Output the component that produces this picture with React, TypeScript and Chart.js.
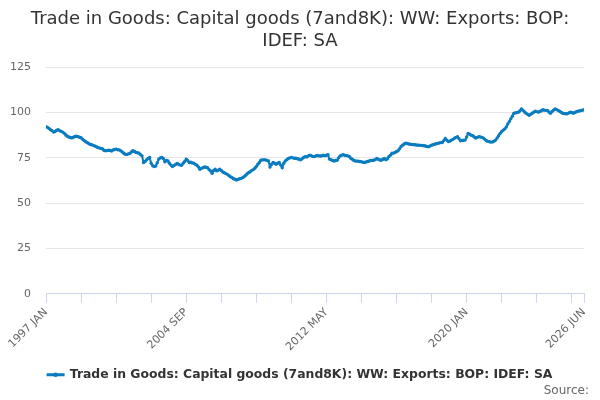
import React, { useEffect, useRef } from 'react';
import { Chart, registerables } from 'chart.js';

Chart.register(...registerables);

const titleLines = ['Trade in Goods: Capital goods (7and8K): WW: Exports: BOP:', 'IDEF: SA'];
const seriesName = 'Trade in Goods: Capital goods (7and8K): WW: Exports: BOP: IDEF: SA';
const sourceText = 'Source:';

const monthNames = ['JAN', 'FEB', 'MAR', 'APR', 'MAY', 'JUN', 'JUL', 'AUG', 'SEP', 'OCT', 'NOV', 'DEC'];
const firstYear = 1997;

// monthly index values, 1997 JAN .. 2026 JUN (one row per year)
const exportsIndex = [
  92.2, 91.8, 91.2, 90.5, 90.0, 89.2, 89.5, 90.2, 90.5, 90.0, 89.6, 89.2,
  88.5, 87.6, 86.9, 86.5, 86.2, 86.0, 86.4, 86.8, 86.9, 86.7, 86.4, 86.1,
  85.3, 84.6, 83.9, 83.5, 82.9, 82.4, 82.2, 81.9, 81.5, 81.1, 80.7, 80.5,
  80.2, 80.0, 79.2, 78.9, 79.0, 79.2, 79.1, 78.8, 79.3, 79.6, 79.8, 79.5,
  79.4, 78.9, 78.3, 77.6, 77.0, 76.9, 77.2, 77.4, 78.2, 78.9, 78.5, 78.0,
  77.8, 77.6, 76.8, 76.1, 72.4, 73.0, 73.9, 74.6, 75.2, 72.0, 70.6, 70.2,
  70.5, 72.3, 74.3, 75.0, 75.2, 74.6, 72.8, 73.5, 73.3, 72.0, 71.0, 70.2,
  70.8, 71.3, 71.9, 71.5, 71.0, 70.9, 72.0, 73.0, 74.3, 73.5, 72.4, 72.6,
  72.2, 72.0, 71.4, 70.9, 70.0, 68.7, 69.2, 69.6, 70.0, 69.8, 69.6, 68.5,
  67.8, 66.5, 68.0, 68.7, 67.8, 68.2, 68.7, 68.0, 67.2, 66.8, 66.3, 65.9,
  65.2, 64.6, 64.2, 63.5, 63.2, 62.8, 63.1, 63.5, 63.6, 64.1, 64.6, 65.4,
  66.2, 66.9, 67.3, 68.1, 68.5, 69.3, 70.2, 71.5, 72.5, 73.7, 73.9, 73.9,
  73.9, 73.6, 73.3, 70.0, 71.5, 72.4, 72.0, 71.5, 72.0, 72.4, 71.0, 69.6,
  72.0, 73.3, 74.0, 74.6, 75.0, 75.2, 75.0, 74.8, 74.8, 74.5, 74.2, 73.9,
  74.5, 75.2, 75.7, 75.5, 76.0, 76.5, 76.2, 75.8, 75.7, 76.0, 76.3, 76.1,
  76.0, 76.1, 76.4, 76.1, 76.4, 76.7, 74.3, 74.0, 73.5, 73.3, 73.5, 73.7,
  75.0, 76.1, 76.5, 76.7, 76.4, 76.2, 76.1, 75.8, 74.8, 74.2, 73.6, 73.3,
  73.2, 73.1, 73.0, 72.8, 72.6, 72.4, 72.7, 73.0, 73.3, 73.5, 73.5, 73.7,
  74.0, 74.6, 74.2, 73.8, 73.7, 74.2, 74.6, 73.9, 74.5, 75.7, 76.5, 77.6,
  77.6, 78.0, 78.5, 78.9, 80.0, 81.3, 82.0, 82.6, 83.1, 82.9, 82.6, 82.5,
  82.4, 82.3, 82.2, 82.1, 82.0, 82.0, 81.9, 81.8, 81.7, 81.5, 81.3, 81.1,
  81.5, 82.0, 82.2, 82.5, 82.8, 83.0, 83.2, 83.4, 83.5, 84.5, 85.7, 84.8,
  84.0, 84.2, 84.8, 85.2, 85.8, 86.3, 86.7, 85.5, 84.4, 84.6, 84.7, 84.8,
  86.5, 88.5, 88.0, 87.5, 87.2, 86.5, 85.9, 86.3, 86.7, 86.5, 86.3, 85.9,
  85.2, 84.4, 84.1, 83.9, 83.7, 83.8, 84.2, 84.8, 86.0, 87.2, 88.5, 89.6,
  90.3, 90.9, 92.0, 93.7, 95.0, 96.5, 98.0, 99.6, 99.8, 100.0, 100.2, 101.0,
  102.0, 101.2, 100.3, 99.6, 99.0, 98.5, 99.0, 99.6, 100.2, 100.7, 100.5, 100.2,
  100.6, 101.0, 101.5, 101.3, 101.2, 101.1, 100.3, 99.6, 100.5, 101.3, 102.0, 101.6,
  101.2, 100.7, 100.2, 99.6, 99.4, 99.3, 99.3, 99.8, 100.2, 100.0, 99.6, 100.0,
  100.4, 100.7, 100.9, 101.1, 101.3, 101.5,
];

const months = exportsIndex.map(
  (_, i) => `${firstYear + Math.floor(i / 12)} ${monthNames[i % 12]}`
);

const tickLabels = ['1997 JAN', '2004 SEP', '2012 MAY', '2020 JAN', '2026 JUN'];
const yTicks = [0, 25, 50, 75, 100, 125];

const FONT = "'DejaVu Sans', sans-serif";
const LINE_COLOR = '#0a7cc1';

const App: React.FC = () => {
  const canvasRef = useRef<HTMLCanvasElement>(null);
  const chartRef = useRef<Chart | null>(null);

  useEffect(() => {
    if (!canvasRef.current) return;
    if (chartRef.current) chartRef.current.destroy();

    // minor tick every 23 months, plus the final month
    const last = months.length - 1;
    const tickIdx: number[] = [];
    for (let i = 0; i <= last; i += 23) tickIdx.push(i);
    if (tickIdx[tickIdx.length - 1] !== last) tickIdx.push(last);

    const extrasPlugin = {
      id: 'extras',
      afterDraw(chart: Chart) {
        const { ctx, width } = chart;
        ctx.save();
        // "Source:" line
        ctx.font = `12px ${FONT}`;
        ctx.fillStyle = '#666666';
        ctx.textAlign = 'right';
        ctx.textBaseline = 'middle';
        ctx.fillText(sourceText, width - 11, 391);
        // dot on the legend symbol
        const boxes = (chart.legend as any)?.legendHitBoxes;
        if (boxes && boxes[0]) {
          const b = boxes[0];
          ctx.fillStyle = LINE_COLOR;
          ctx.beginPath();
          ctx.arc(b.left + 8, b.top + b.height / 2, 2.2, 0, Math.PI * 2);
          ctx.fill();
        }
        ctx.restore();
      },
    };

    chartRef.current = new Chart(canvasRef.current, {
      type: 'line',
      data: {
        datasets: [
          {
            label: seriesName,
            data: exportsIndex.map((v, i) => ({ x: i, y: v })),
            borderColor: LINE_COLOR,
            backgroundColor: LINE_COLOR,
            borderWidth: 2,
            pointRadius: 1.7,
            pointBorderWidth: 0,
            tension: 0,
          },
        ],
      },
      options: {
        responsive: true,
        maintainAspectRatio: false,
        animation: false,
        layout: { padding: { left: 10, right: 10, top: 4, bottom: 9 } },
        plugins: {
          title: {
            display: true,
            text: titleLines,
            color: '#333333',
            font: { family: FONT, size: 18, weight: 'normal', lineHeight: 1.2 },
            padding: { top: 5, bottom: 15 },
          },
          legend: {
            position: 'bottom',
            labels: {
              color: '#333333',
              font: { family: FONT, size: 12.4, weight: 'bold' },
              usePointStyle: false,
              boxWidth: 16,
              boxHeight: 1,
              padding: 8,
            },
          },
          tooltip: { enabled: false },
        },
        scales: {
          x: {
            type: 'linear',
            min: 0,
            max: last,
            afterBuildTicks: (axis: any) => {
              axis.ticks = tickIdx.map((v) => ({ value: v }));
            },
            afterFit: (axis: any) => {
              axis.paddingLeft = 0;
              axis.paddingRight = 16;
              // extra room between the rotated labels and the legend
              axis.height += 4;
            },
            grid: {
              drawOnChartArea: false,
              drawTicks: true,
              tickLength: 9,
              color: '#ccd6eb',
            },
            border: { color: '#ccd6eb' },
            ticks: {
              autoSkip: false,
              maxRotation: 45,
              minRotation: 45,
              color: '#666666',
              font: { family: FONT, size: 11 },
              callback: (value: any) => {
                const label = months[Math.round(Number(value))];
                return tickLabels.includes(label) ? label : '';
              },
            },
          },
          y: {
            min: 0,
            max: 125,
            afterBuildTicks: (axis: any) => {
              axis.ticks = yTicks.map((v) => ({ value: v }));
            },
            afterFit: (axis: any) => {
              // label column (10 .. 31) plus the gap up to the plot edge
              axis.width = 36;
            },
            grid: { color: '#e6e6e6', drawTicks: false },
            border: { display: false },
            ticks: {
              color: '#666666',
              padding: 15,
              font: { family: FONT, size: 11 },
            },
          },
        },
      },
      plugins: [extrasPlugin],
    });

    return () => {
      if (chartRef.current) {
        chartRef.current.destroy();
        chartRef.current = null;
      }
    };
  }, []);

  return (
    <div style={{ position: 'absolute', left: 0, top: 0, width: 600, height: 400, background: '#fff' }}>
      <canvas ref={canvasRef}></canvas>
    </div>
  );
};

export default App;
